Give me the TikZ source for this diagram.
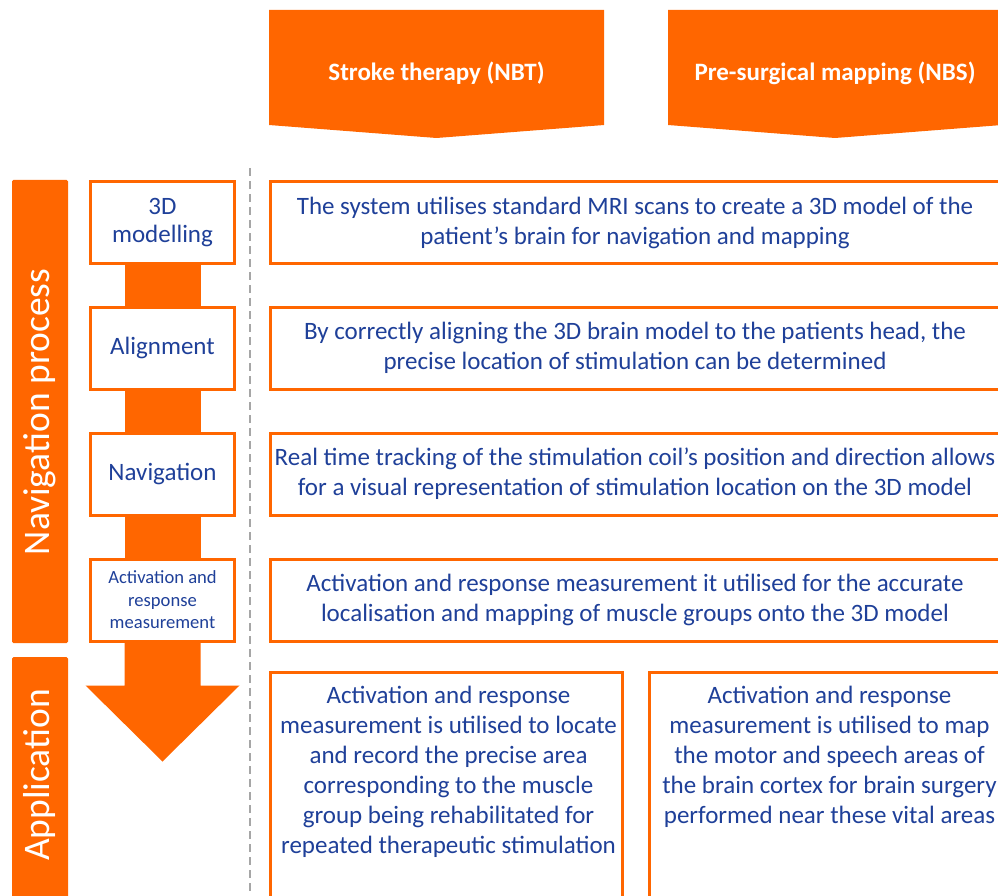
\documentclass[tikz,border=0pt]{standalone}
\usepackage{fontspec}
\setmainfont{Carlito}
\usetikzlibrary{calc}
\definecolor{org}{RGB}{255,102,0}
\definecolor{txt}{RGB}{31,64,153}
\begin{document}
\begin{tikzpicture}[x=1pt,y=-1pt,
  box/.style={draw=org, line width=3pt, fill=white, inner sep=0pt, text=txt, align=center,
    font=\fontsize{25}{30}\selectfont},
  stepbox/.style={box, minimum width=144pt, minimum height=82pt},
  descbox/.style={box, minimum width=730pt, minimum height=82pt},
  apptext/.style={anchor=north, inner sep=0pt, text=txt, align=center, font=\fontsize{25}{30}\selectfont},
  bannertext/.style={text=white, font=\bfseries\fontsize{25}{30}\selectfont},
  sidetext/.style={rotate=90, text=white, font=\fontsize{37.5}{44}\selectfont},
  link/.style={draw=org, line width=76pt}
]
\useasboundingbox (0,0) rectangle (998,896);
\clip (0,0) rectangle (998,896);

% banners
\fill[org] (269,10) -- (604,10) -- (604,125) -- (436.5,138) -- (269,125) -- cycle;
\fill[org] (668,10) -- (1002,10) -- (1002,125) -- (835,138) -- (668,125) -- cycle;
\node[bannertext] (bn1) at (436.5,73) {Stroke therapy (NBT)};
\node[bannertext] (bn2) at (835,73) {Pre-surgical mapping (NBS)};

% side bars
\fill[org, rounded corners=1.5pt] (12,180) rectangle (68,643);
\fill[org, rounded corners=1.5pt] (12,657) rectangle (68,930);
\node[sidetext] (nav) at (40,412) {Navigation process};
\node[sidetext] (app) at (40,775) {Application};

% dashed separator
\draw[gray!70, line width=2pt, dash pattern=on 8pt off 5pt] (250,168) -- (250,896);

% step boxes
\node[stepbox] (m1) at (162.5,222.5) {3D\\[-2pt]modelling};
\node[stepbox] (m2) at (162.5,348) {Alignment};
\node[stepbox] (m3) at (162.5,474) {Navigation};
\node[stepbox, font=\fontsize{18.6}{22.5}\selectfont] (m4) at (162.5,600) {Activation and\\response\\measurement};

% links
\draw[link] (m1.south) -- (m2.north);
\draw[link] (m2.south) -- (m3.north);
\draw[link] (m3.south) -- (m4.north);
\fill[org] ($(m4.south)+(-38,0)$) -- ($(m4.south)+(38,0)$) -- ($(m4.south)+(38,43)$) -- ($(m4.south)+(77,43)$)
  -- ($(m4.south)+(0,119)$) -- ($(m4.south)+(-77,43)$) -- ($(m4.south)+(-38,43)$) -- cycle;

% description boxes
\node[descbox] (d1) at (635,222.5) {The system utilises standard MRI scans to create a 3D model of the\\patient’s brain for navigation and mapping};
\node[descbox] (d2) at (635,348) {By correctly aligning the 3D brain model to the patients head, the\\precise location of stimulation can be determined};
\node[descbox] (d3) at (635,474) {Real time tracking of the stimulation coil’s position and direction allows\\for a visual representation of stimulation location on the 3D model};
\node[descbox] (d4) at (635,600) {Activation and response measurement it utilised for the accurate\\localisation and mapping of muscle groups onto the 3D model};

% application boxes
\node[box, minimum width=352pt, minimum height=257pt] (a1) at (446.5,801) {};
\node[box, minimum width=360pt, minimum height=257pt] (a2) at (829.5,801) {};
\node[apptext] (t1) at ($(a1.north)+(2,15)$) {Activation and response\\measurement is utilised to locate\\and record the precise area\\corresponding to the muscle\\group being rehabilitated for\\repeated therapeutic stimulation};
\node[apptext] (t2) at ($(a2.north)+(0,15)$) {Activation and response\\measurement is utilised to map\\the motor and speech areas of\\the brain cortex for brain surgery\\performed near these vital areas};
\end{tikzpicture}
\end{document}
